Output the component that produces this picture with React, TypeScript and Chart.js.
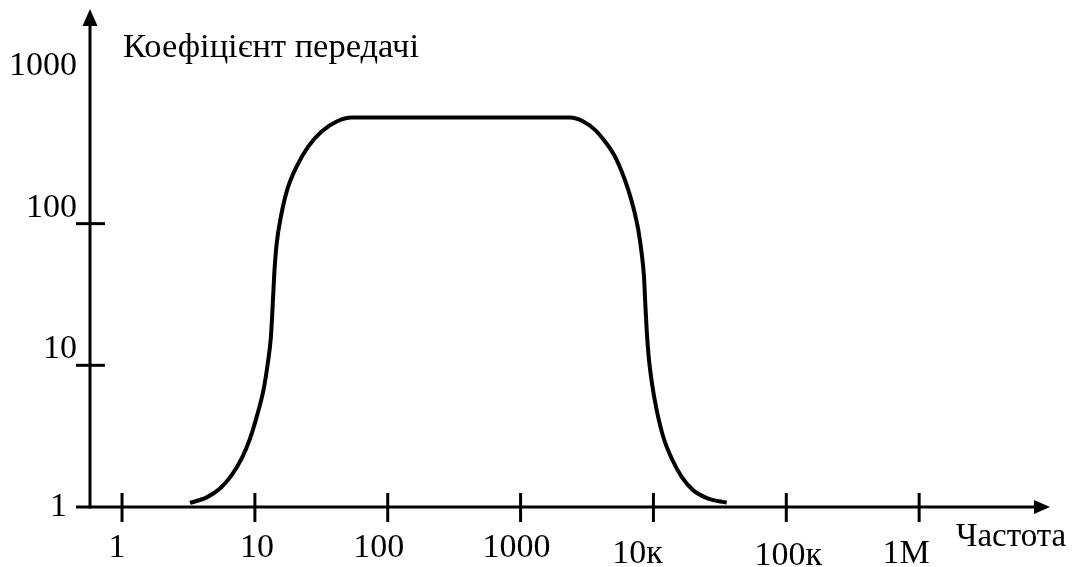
import React, { useEffect, useRef } from "react";
import { Chart, registerables } from "chart.js";

Chart.register(...registerables);

// Frequency response (frequency in Hz, gain as a ratio)
const freqHz = [
  3.25, 4.34, 5.46, 6.69, 7.96, 9.19, 10.4, 11.6, 12.5, 13.2, 13.6, 14.0, 14.6, 15.7, 17.5, 20.6, 25.2, 31.8, 41.3, 53.5,
  2354, 2965, 3631, 4318, 5049, 5768, 6467, 7138, 7691, 8155, 8490, 8679, 8898, 9211, 9752, 10580, 11865, 13725, 16316, 19950, 25880, 35600,
];
const gain = [
  1.07, 1.17, 1.35, 1.68, 2.2, 3.04, 4.45, 6.68, 10.3, 15.9, 25.9, 44.6, 72.7, 112, 173, 253, 350, 447, 526, 561,
  561, 526, 459, 380, 306, 233, 173, 125, 90.3, 61.8, 42.2, 27.4, 17.7, 11.5, 7.45, 4.83, 3.12, 2.2, 1.63, 1.31, 1.147, 1.074,
];

const xTickValues = [1, 10, 100, 1000, 10000, 100000, 1000000];
const xTickLabels = ["1", "10", "100", "1000", "10к", "100к", "1М"];
const yTickValues = [1, 10, 100, 1000];
const yTickLabels = ["1", "10", "100", "1000"];
const yTitle = "Коефіцієнт передачі";
const xTitle = "Частота";

const xRange = [0.574, 9.66e6];
const yRange = [1, 3273];

// hand-lettered label placement (pixel nudges relative to tick, and baselines)
const xLabelDx = [-5, 2, -9, -4, -16, 2, -13];
const xLabelBase = [557, 557, 557, 557, 563, 565, 563];

const FONT = '"Liberation Serif", "Times New Roman", Times, serif';

const handAxes = {
  id: "handAxes",
  beforeDatasetsDraw(chart: any) {
    const ctx = chart.ctx as CanvasRenderingContext2D;
    const { left, right, top, bottom } = chart.chartArea;
    const xs = chart.scales.x;
    const ys = chart.scales.y;
    ctx.save();
    ctx.strokeStyle = "#000";
    ctx.fillStyle = "#000";
    ctx.lineWidth = 3;
    ctx.lineCap = "butt";

    const seg = (x1: number, y1: number, x2: number, y2: number) => {
      ctx.beginPath();
      ctx.moveTo(x1, y1);
      ctx.lineTo(x2, y2);
      ctx.stroke();
    };

    // y axis with arrow
    seg(left, bottom + 1.5, left, top + 12);
    ctx.beginPath();
    ctx.moveTo(left, top);
    ctx.lineTo(left - 7.5, top + 17);
    ctx.lineTo(left + 7.5, top + 17);
    ctx.closePath();
    ctx.fill();

    // x axis with arrow
    seg(left - 14, bottom, right - 12, bottom);
    ctx.beginPath();
    ctx.moveTo(right, bottom);
    ctx.lineTo(right - 16, bottom - 7);
    ctx.lineTo(right - 16, bottom + 7);
    ctx.closePath();
    ctx.fill();

    // x ticks
    xTickValues.forEach((v) => {
      const px = xs.getPixelForValue(v);
      seg(px, bottom - 14, px, bottom + 15);
    });
    // y ticks (inner ones)
    yTickValues.forEach((v, i) => {
      if (i === 0 || i === yTickValues.length - 1) return;
      const py = ys.getPixelForValue(v);
      seg(left - 14, py, left + 15, py);
    });

    // labels
    ctx.font = `34px ${FONT}`;
    ctx.textBaseline = "alphabetic";
    ctx.textAlign = "center";
    xTickValues.forEach((v, i) => {
      const px = xs.getPixelForValue(v);
      ctx.fillText(xTickLabels[i], px + xLabelDx[i], xLabelBase[i]);
    });
    ctx.textAlign = "right";
    yTickValues.forEach((v, i) => {
      const py = ys.getPixelForValue(v);
      if (i === 0) {
        ctx.fillText(yTickLabels[i], left - 23, bottom + 8.5);
      } else {
        ctx.fillText(yTickLabels[i], left - 13, py - 7);
      }
    });

    ctx.textAlign = "left";
    ctx.font = `34.5px ${FONT}`;
    ctx.fillText(yTitle, left + 33, 56.5);
    ctx.font = `33px ${FONT}`;
    ctx.fillText(xTitle, 956, 546);
    ctx.restore();
  },
};

export default function App() {
  const ref = useRef<HTMLCanvasElement | null>(null);
  useEffect(() => {
    if (!ref.current) return;
    const chart = new Chart(ref.current, {
      type: "line",
      data: {
        datasets: [
          {
            data: freqHz.map((f, i) => ({ x: f, y: gain[i] })),
            borderColor: "#000",
            borderWidth: 4,
            pointRadius: 0,
            fill: false,
            cubicInterpolationMode: "monotone",
            clip: false as any,
          },
        ],
      },
      options: {
        responsive: false,
        animation: false,
        devicePixelRatio: 1,
        layout: { padding: { left: 90, right: 23, top: 9, bottom: 60 } },
        plugins: { legend: { display: false }, tooltip: { enabled: false } },
        scales: {
          x: { type: "logarithmic", min: xRange[0], max: xRange[1], display: false },
          y: { type: "logarithmic", min: yRange[0], max: yRange[1], display: false },
        },
      },
      plugins: [handAxes],
    });
    return () => chart.destroy();
  }, []);
  return (
    <div style={{ position: "fixed", left: 0, top: 0, width: 1073, height: 567, background: "#fff" }}>
      <canvas ref={ref} width={1073} height={567} style={{ display: "block" }} />
    </div>
  );
}
